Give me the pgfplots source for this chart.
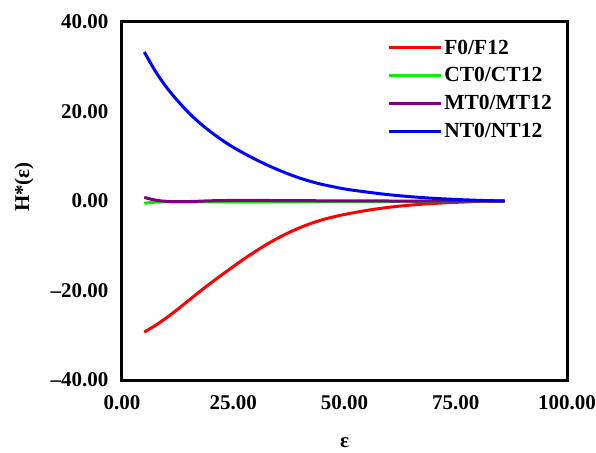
\documentclass[border=0pt]{standalone}
\usepackage{pgfplots}
\pgfplotsset{compat=1.18}
\usepackage{fontspec}
\setmainfont{Liberation Serif}
\definecolor{cred}{RGB}{255,0,0}
\definecolor{cgreen}{RGB}{0,240,0}
\definecolor{cpurple}{RGB}{128,0,128}
\definecolor{cblue}{RGB}{0,0,255}
\begin{document}
\begin{tikzpicture}
\begin{axis}[
  name=ax,
  scale only axis,
  width=445pt, height=358pt,
  xmin=0, xmax=100, ymin=-40, ymax=40,
  xtick={0,25,50,75,100},
  xticklabels={0.00,25.00,50.00,75.00,100.00},
  ytick={-40,-20,0,20,40},
  yticklabels={–40.00,–20.00,0.00,20.00,40.00},
  major tick length=0pt,
  axis line style={line width=3pt},
  ticklabel style={font=\fontsize{21}{25}\selectfont\bfseries},
  xticklabel style={yshift=-12pt},
  yticklabel style={xshift=-10pt},
  xlabel={ε},
  ylabel={H*(ε)},
  label style={font=\fontsize{21}{25}\selectfont\bfseries},
  xlabel style={at={(axis description cs:0.50,-0.176)}, anchor=center},
  ylabel style={at={(axis description cs:-0.22,0.539)}, anchor=center, rotate=0},
  legend style={at={(axis description cs:0.589,0.962)}, anchor=north west, draw=none, fill=none,
    font=\fontsize{21.5}{25}\selectfont\bfseries, row sep=8pt},
  legend cell align=left,
  legend image code/.code={\draw[#1] (0pt,0pt) -- (52pt,0pt);},
  every axis plot/.append style={line width=3pt},
  clip=false,
]
\addplot[cred, smooth] table {
5 -29.3
7.5 -27.8
10 -26.1
12.5 -24.2
15 -22.2
17.5 -20.2
20 -18.3
22.5 -16.45
25 -14.65
27.5 -12.9
30 -11.25
32.5 -9.7
35 -8.3
37.5 -7.05
40 -5.95
42.5 -5.0
45 -4.2
47.5 -3.55
50 -3.0
55 -2.1
60 -1.4
65 -0.9
70 -0.55
75 -0.3
80 -0.12
86 0
};
\addlegendentry{F0/F12}
\addplot[cgreen, smooth] table {
5 -0.5
7 -0.3
10 -0.2
20 -0.2
30 -0.2
45 -0.15
60 -0.1
75 -0.05
86 0
};
\addlegendentry{CT0/CT12}
\addplot[cpurple, smooth] table {
5 0.8
7 0.3
9 0.0
12 -0.15
16 -0.1
20 0.05
27 0.15
35 0.1
45 0.05
60 0.0
86 0
};
\addlegendentry{MT0/MT12}
\addplot[cblue, smooth] table {
5 33.3
7.5 29.0
10 25.4
12.5 22.4
15 19.7
17.5 17.4
20 15.4
22.5 13.6
25 12.0
27.5 10.6
30 9.3
32.5 8.1
35 7.0
37.5 6.0
40 5.1
42.5 4.35
45 3.7
50 2.7
55 2.0
60 1.4
65 0.95
70 0.6
75 0.35
80 0.15
86 0
};
\addlegendentry{NT0/NT12}
\end{axis}
\pgfresetboundingbox
\path[use as bounding box] ([xshift=-122pt,yshift=-72pt]ax.south west) rectangle ([xshift=29pt,yshift=22pt]ax.north east);
\end{tikzpicture}
\end{document}
